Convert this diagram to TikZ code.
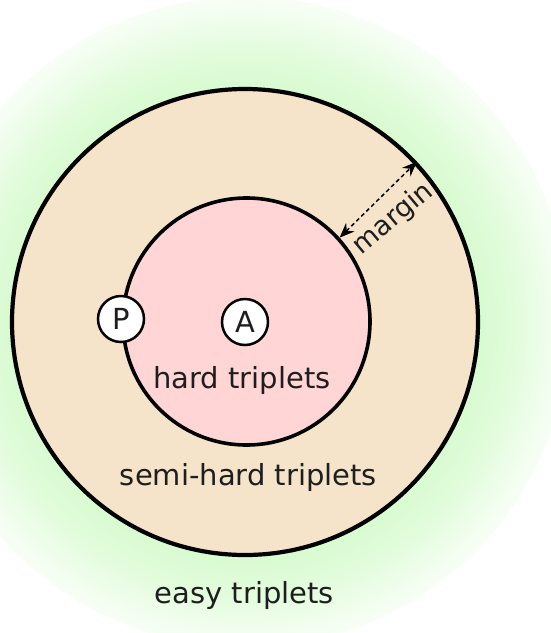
\documentclass[tikz,border=0pt]{standalone}
\usepackage{fontspec}
\setmainfont{DejaVu Sans}
\usetikzlibrary{arrows.meta}
\definecolor{glow}{RGB}{216,251,208}
\definecolor{semi}{RGB}{245,228,202}
\definecolor{hardc}{RGB}{255,213,213}
\definecolor{ink}{RGB}{30,30,30}
\pgfdeclareradialshading{glowshade}{\pgfpoint{0bp}{0bp}}{color(0bp)=(glow); color(17.9bp)=(glow); color(20.8bp)=(glow!75); color(23.3bp)=(glow!40); color(26.5bp)=(white); color(50bp)=(white)}
\begin{document}
\begin{tikzpicture}[x=1pt,y=-1pt,
  lbl/.style={font=\fontsize{29}{34}\selectfont, text=ink, inner sep=0},
  ring/.style={circle, draw=black, inner sep=0},
  ptnode/.style={circle, draw=black, fill=white, line width=2.5pt, minimum size=46pt, inner sep=0, font=\fontsize{29}{34}\selectfont, text=ink},
  marginarrow/.style={line width=1.5pt, dash pattern=on 4pt off 3pt,
    {Stealth[length=15pt,width=12pt,inset=5pt]}-{Stealth[length=15pt,width=12pt,inset=5pt]}}]
\useasboundingbox (0,0) rectangle (551,633);
\fill[white] (0,0) rectangle (551,633);
\shade[shading=glowshade] (245,322) circle (325);
\node[ring, line width=4.2pt, fill=semi, minimum size=466pt] (outer) at (245,322) {};
\node[ring, line width=3.6pt, fill=hardc, minimum size=247pt] (inner) at (246.5,321.5) {};
\node[ptnode] (P) at (121,319) {P};
\node[ptnode] (A) at (245,322) {A};
\draw[marginarrow] (inner.42) -- (outer.43);
\node[lbl, font=\fontsize{27}{31}\selectfont, rotate=40] (margin) at (393,219) {margin};
\node[lbl, anchor=base] (hard) at (242,388) {hard triplets};
\node[lbl, anchor=base] (semihard) at (248.5,485) {semi-hard triplets};
\node[lbl, anchor=base] (easy) at (244.5,603) {easy triplets};
\end{tikzpicture}
\end{document}
